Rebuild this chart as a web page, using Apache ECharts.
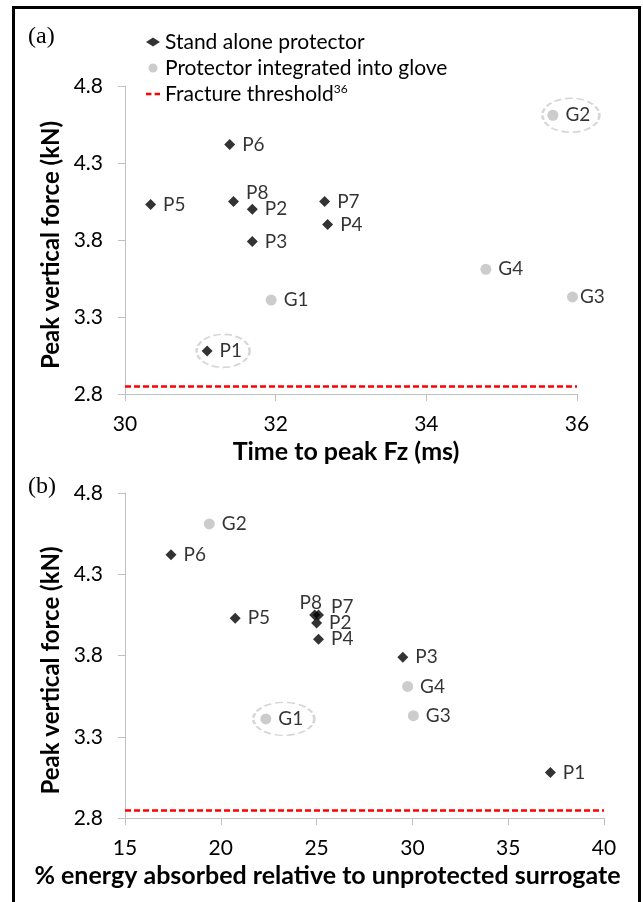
<!DOCTYPE html>
<html>
<head>
<meta charset="utf-8">
<title>Peak vertical force of wrist protectors</title>
<script src="https://cdn.jsdelivr.net/npm/echarts@6/dist/echarts.min.js"></script>
<style>
  html, body { margin: 0; padding: 0; background: #fff; }
  .frame { position: absolute; left: 12px; top: 6px; width: 623px; height: 904px; border: 3px solid #000; }
  #chart { position: absolute; left: 0; top: 0; width: 643px; height: 902px; }
</style>
</head>
<body>
<div class="frame"></div>
<div id="chart"></div>
<script>
// stand alone protectors (P) and protectors integrated into a glove (G)
const standAloneNames = ['P1', 'P2', 'P3', 'P4', 'P5', 'P6', 'P7', 'P8']
const standAloneForce = [3.08, 4.00, 3.79, 3.90, 4.03, 4.42, 4.05, 4.05] // kN
const standAloneTime = [31.09, 31.69, 31.69, 32.69, 30.34, 31.39, 32.65, 31.44] // ms
const standAloneEnergy = [37.2, 25.0, 29.5, 25.1, 20.75, 17.4, 25.1, 24.9] // %

const gloveNames = ['G1', 'G2', 'G3', 'G4']
const gloveForce = [3.41, 4.61, 3.43, 3.61]
const gloveTime = [31.94, 35.68, 35.94, 34.79]
const gloveEnergy = [22.35, 19.4, 30.05, 29.75]

const fractureThreshold = 2.85 // kN

const forceTicks = [2.8, 3.3, 3.8, 4.3, 4.8]
const timeTicks = [30, 32, 34, 36]
const energyTicks = [15, 20, 25, 30, 35, 40]

// points with a dashed ring drawn round them
const ringedA = ['P1', 'G2']
const ringedB = ['G1']

// ---- styling ----
const FONT = 'Lato'
const GREY = '#bfbfbf'
const AXIS_GREY = '#c0c0c0'
const RED = '#ff0000'
const NAMES = ['Stand alone protector', 'Protector integrated into glove', 'Fracture threshold']

// label nudges so the text sits where the original has it
const labelTweaksA = { P8: { offset: [0, -9] }, G3: { distance: 2 } }
const labelTweaksB = { P8: { position: 'inside', offset: [-4, -12] }, P7: { offset: [0, -8] } }
const ringStyle = {
  P1: { size: [53, 33], offset: [16, 0] },
  G2: { size: [57, 34], offset: [18, 0] },
  G1: { size: [61, 33], offset: [18, 0] }
}

function points (names, xs, ys, tweaks) {
  return names.map((n, i) => ({ name: n, value: [xs[i], ys[i]], label: tweaks[n] }))
}

function rings (ringed, names, xs, ys) {
  return ringed.map(n => {
    const i = names.indexOf(n)
    return { name: n, value: [xs[i], ys[i]], symbolSize: ringStyle[n].size, symbolOffset: ringStyle[n].offset }
  })
}

const pointLabel = {
  show: true,
  formatter: '{b}',
  position: 'right',
  distance: 7,
  fontFamily: FONT,
  fontSize: 19,
  color: '#000'
}

function yAxis (gridIndex, shift) {
  return {
    type: 'value',
    gridIndex: gridIndex,
    min: forceTicks[0],
    max: forceTicks[forceTicks.length - 1],
    name: 'Peak vertical force (kN)',
    nameLocation: 'middle',
    nameGap: 55,
    nameTextStyle: { fontFamily: FONT, fontSize: 24, fontWeight: 'bold', color: '#000', padding: [0, shift, 0, 0] },
    splitLine: { show: false },
    axisLine: { show: true, lineStyle: { color: AXIS_GREY } },
    axisTick: { show: true, length: 7, customValues: forceTicks, lineStyle: { color: AXIS_GREY } },
    axisLabel: {
      customValues: forceTicks,
      margin: 22,
      fontFamily: FONT,
      fontSize: 21,
      color: '#000',
      formatter: v => v.toFixed(1)
    }
  }
}

function xAxis (gridIndex, ticks, title, shift) {
  return {
    type: 'value',
    gridIndex: gridIndex,
    min: ticks[0],
    max: ticks[ticks.length - 1],
    interval: ticks[1] - ticks[0],
    name: title,
    nameLocation: 'middle',
    nameGap: 45,
    nameTextStyle: { fontFamily: FONT, fontSize: 25, fontWeight: 'bold', color: '#000', padding: [0, shift, 0, 0] },
    splitLine: { show: false },
    axisLine: { onZero: false, lineStyle: { color: AXIS_GREY } },
    axisTick: { show: true, length: 7, lineStyle: { color: AXIS_GREY } },
    axisLabel: { margin: 20, fontFamily: FONT, fontSize: 21, color: '#000' }
  }
}

function panelSeries (idx, pX, gX, ringed, tweaks) {
  return [
    {
      name: NAMES[0],
      type: 'scatter',
      xAxisIndex: idx,
      yAxisIndex: idx,
      symbol: 'diamond',
      symbolSize: 11,
      itemStyle: { color: '#000' },
      label: pointLabel,
      z: 3,
      data: points(standAloneNames, pX, standAloneForce, tweaks)
    },
    {
      name: NAMES[1],
      type: 'scatter',
      xAxisIndex: idx,
      yAxisIndex: idx,
      symbol: 'circle',
      symbolSize: 11,
      itemStyle: { color: GREY },
      label: pointLabel,
      z: 3,
      data: points(gloveNames, gX, gloveForce, tweaks)
    },
    {
      name: NAMES[2],
      type: 'line',
      xAxisIndex: idx,
      yAxisIndex: idx,
      symbol: 'none',
      lineStyle: { color: RED, type: [6, 3], width: 2.5 },
      itemStyle: { color: RED },
      data: [],
      markLine: {
        silent: true,
        symbol: ['none', 'none'],
        label: { show: false },
        lineStyle: { color: RED, type: [6, 3], width: 2.5 },
        data: [{ yAxis: fractureThreshold }]
      }
    },
    {
      name: 'ring' + idx,
      type: 'scatter',
      xAxisIndex: idx,
      yAxisIndex: idx,
      silent: true,
      symbol: 'circle',
      itemStyle: { color: 'rgba(0,0,0,0)', borderColor: '#cccccc', borderWidth: 2, borderType: [6, 3] },
      z: 1,
      data: rings(ringed, standAloneNames.concat(gloveNames), pX.concat(gX), standAloneForce.concat(gloveForce))
    }
  ]
}

const chart = echarts.init(document.getElementById('chart'))
chart.setOption({
  animation: false,
  title: [
    { text: '(a)', left: 23, top: 20, textStyle: { fontFamily: 'Liberation Serif', fontSize: 24, fontWeight: 'normal', color: '#000' } },
    { text: '(b)', left: 23, top: 470, textStyle: { fontFamily: 'Liberation Serif', fontSize: 24, fontWeight: 'normal', color: '#000' } }
  ],
  legend: {
    data: [
      { name: NAMES[0] },
      { name: NAMES[1] },
      { name: NAMES[2], icon: 'path://M0,0H5V2.2H0Z M8,0H13V2.2H8Z' }
    ],
    orient: 'vertical',
    left: 141,
    top: 26,
    itemWidth: 14,
    itemHeight: 9,
    itemGap: 4,
    selectedMode: false,
    textStyle: {
      fontFamily: FONT,
      fontSize: 21,
      lineHeight: 22,
      color: '#000',
      rich: { sup: { fontFamily: FONT, fontSize: 12, lineHeight: 22, verticalAlign: 'top', color: '#000' } }
    },
    formatter: n => (n === NAMES[2] ? n + '{sup|36}' : n)
  },
  grid: [
    { left: 125, right: 66, top: 86, bottom: 508 },
    { left: 125, right: 39, top: 493, bottom: 84 }
  ],
  xAxis: [
    xAxis(0, timeTicks, 'Time to peak Fz (ms)', 10),
    xAxis(1, energyTicks, '% energy absorbed relative to unprotected surrogate', 74)
  ],
  yAxis: [yAxis(0, 10), yAxis(1, 30)],
  series: panelSeries(0, standAloneTime, gloveTime, ringedA, labelTweaksA)
    .concat(panelSeries(1, standAloneEnergy, gloveEnergy, ringedB, labelTweaksB))
})
</script>
</body>
</html>
